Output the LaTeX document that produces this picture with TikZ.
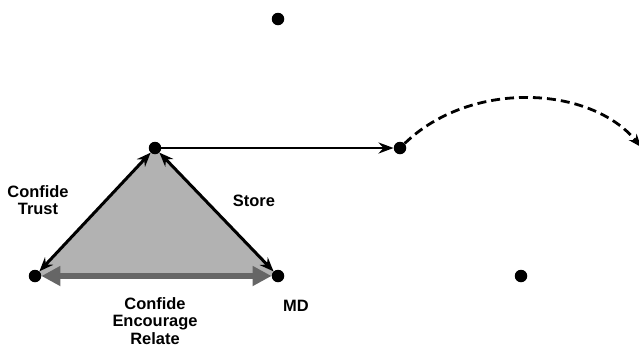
\documentclass[tikz,border=0pt]{standalone}
\usepackage{fontspec}
\setmainfont{Liberation Sans}
\usetikzlibrary{arrows.meta}
\begin{document}
\begin{tikzpicture}[x=1bp,y=-1bp,
  dot/.style={circle,fill=black,inner sep=0pt,minimum size=12.5bp},
  lbl/.style={font=\bfseries\fontsize{16.5}{17.5}\selectfont,align=center,inner sep=0pt},
  blk/.style={line width=3bp,{Stealth[length=14bp,width=11bp]}-{Stealth[length=14bp,width=11bp]}},
  gry/.style={draw=black!60,line width=6.5bp,{Triangle[length=19bp,width=19bp]}-{Triangle[length=19bp,width=19bp]}}
]
\useasboundingbox (0,0) rectangle (639,351);
\fill[black!30] (155,148) -- (35,276) -- (278,276) -- cycle;
\node[dot] (top) at (278,19) {};
\node[dot] (a) at (155,148) {};
\node[dot] (l) at (35,276) {};
\node[dot] (r) at (278,276) {};
\node[dot] (m) at (400,148) {};
\node[dot] (br) at (521,276) {};
\coordinate (e) at (641,147);
\draw[gry] (l) -- (r);
\draw[blk] (l) -- (a);
\draw[blk] (a) -- (r);
\draw[line width=2.8bp,-{Stealth[length=15bp,width=11bp]}] (a) -- (m);
\draw[line width=2.8bp,dash pattern=on 9bp off 5bp,-{Stealth[length=13bp,width=10bp]}] (m) .. controls (470,80) and (590,85) .. (e);
\node[lbl] (t1) at (38,200) {Confide\\Trust};
\node[lbl] (t2) at (254,201) {Store};
\node[lbl] (t3) at (296,306) {MD};
\node[lbl] (t4) at (155,321) {Confide\\Encourage\\Relate};
\end{tikzpicture}
\end{document}
